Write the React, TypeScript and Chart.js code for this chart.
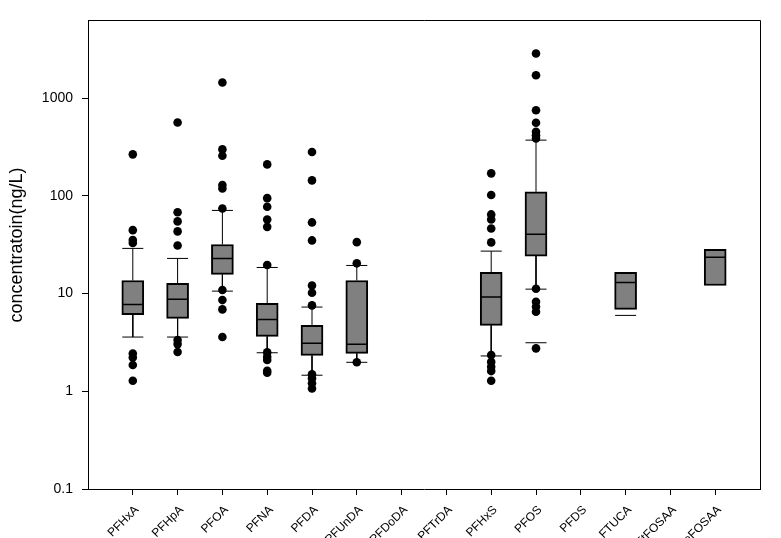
import React, { useEffect, useRef } from 'react';
import { Chart, registerables } from 'chart.js';

Chart.register(...registerables);

const categories = [
  'PFHxA', 'PFHpA', 'PFOA', 'PFNA', 'PFDA', 'PFUnDA', 'PFDoDA', 'PFTrDA',
  'PFHxS', 'PFOS', 'PFDS', 'FTUCA', 'N-EtFOSAA', 'N-MeFOSAA',
];
const yTickValues = [0.1, 1, 10, 100, 1000];

const boxLow = [6.1, 5.57, 15.7, 3.65, 2.33, 2.44, null, null, 4.73, 24.2, null, 6.89, null, 12.1];
const medians = [7.75, 8.73, 22.9, 5.44, 3.1, 3.03, null, null, 9.2, 40.4, null, 13.0, null, 23.5];
const boxHigh = [13.6, 12.7, 31.8, 7.94, 4.73, 13.6, null, null, 16.5, 110, null, 16.5, null, 28.3];
const whiskerLow = [3.59, 3.59, 10.6, 2.48, 1.46, 1.98, null, null, 2.3, 11.1, null, null, null, null];
const whiskerHigh = [29, 22.9, 71, 18.5, 7.28, 19.4, null, null, 27.2, 372, null, null, null, null];
const extraLowCaps = [null, null, null, null, null, null, null, null, null, 3.14, null, 5.98, null, null];

const outliers: number[][] = [
  [266, 44.6, 35.3, 33, 2.44, 2.22, 1.86, 1.28],
  [564, 68, 54.8, 43.3, 31.1, 3.34, 3.04, 2.52],
  [1449, 299, 257, 129, 119, 74.4, 10.9, 8.58, 6.89, 3.59],
  [210, 94.8, 77.3, 57.4, 48.2, 19.6, 2.5, 2.26, 2.09, 1.62, 1.55],
  [281, 144, 53.5, 35, 12.1, 10.2, 7.57, 1.49, 1.36, 1.21, 1.07],
  [33.6, 20.4, 1.98],
  [],
  [],
  [170, 102, 64.6, 57.4, 46.4, 33.4, 2.35, 2.0, 1.78, 1.61, 1.28],
  [2865, 1718, 753, 560, 452, 418, 387, 11.2, 8.24, 7.33, 6.52, 2.75],
  [],
  [],
  [],
  [],
];

const yTitle = 'concentratoin(ng/L)';
const FONT = "'Liberation Sans', Arial, sans-serif";

export default function App() {
  const ref = useRef<HTMLCanvasElement>(null);

  useEffect(() => {
    if (!ref.current) return;
    const xs = categories.map((_, i) => i + 1);
    const capHalf = 0.235;
    const medHalf = 0.235;

    const boxData: any[] = [];
    const medianPts: any[] = [];
    const whiskerPts: any[] = [];
    const outlierPts: any[] = [];

    xs.forEach((x, i) => {
      const seg = (a: any, b: any, arr: any[]) => arr.push(a, b, { x, y: null });
      if (boxLow[i] != null && boxHigh[i] != null) {
        boxData.push({ x, y: [boxLow[i], boxHigh[i]] });
      }
      if (medians[i] != null) {
        seg({ x: x - medHalf, y: medians[i] }, { x: x + medHalf, y: medians[i] }, medianPts);
      }
      if (whiskerLow[i] != null) {
        seg({ x, y: boxLow[i] }, { x, y: whiskerLow[i] }, whiskerPts);
        seg({ x: x - capHalf, y: whiskerLow[i] }, { x: x + capHalf, y: whiskerLow[i] }, whiskerPts);
      }
      if (whiskerHigh[i] != null) {
        seg({ x, y: boxHigh[i] }, { x, y: whiskerHigh[i] }, whiskerPts);
        seg({ x: x - capHalf, y: whiskerHigh[i] }, { x: x + capHalf, y: whiskerHigh[i] }, whiskerPts);
      }
      if (extraLowCaps[i] != null) {
        seg({ x: x - capHalf, y: extraLowCaps[i] }, { x: x + capHalf, y: extraLowCaps[i] }, whiskerPts);
      }
      outliers[i].forEach((v) => outlierPts.push({ x, y: v }));
    });

    const framePlugin = {
      id: 'frame',
      afterDraw(chart: any) {
        const { ctx, chartArea } = chart;
        const { left, right, top, bottom } = chartArea;
        ctx.save();
        ctx.strokeStyle = '#000';
        ctx.lineWidth = 1;
        ctx.beginPath();
        const t = Math.floor(top) + 0.5;
        const r = Math.floor(right) + 0.5;
        ctx.moveTo(Math.floor(left), t);
        ctx.lineTo(r, t);
        ctx.lineTo(r, Math.ceil(bottom));
        ctx.stroke();
        // y-axis title
        ctx.fillStyle = '#000';
        ctx.font = `18px ${FONT}`;
        ctx.textAlign = 'center';
        ctx.textBaseline = 'middle';
        ctx.translate(17.5, 245);
        ctx.rotate(-Math.PI / 2);
        ctx.fillText(yTitle, 0, 0);
        ctx.restore();
      },
    };

    const chart = new Chart(ref.current, {
      type: 'bar',
      data: {
        datasets: [
          {
            type: 'scatter',
            data: outlierPts,
            pointRadius: 4.3,
            pointBackgroundColor: '#000',
            pointBorderWidth: 0,
            pointBorderColor: '#000',
            order: 0,
          } as any,
          {
            type: 'line',
            data: medianPts,
            borderColor: '#000',
            borderWidth: 1.5,
            pointRadius: 0,
            spanGaps: false,
            fill: false,
            order: 1,
          } as any,
          {
            type: 'bar',
            data: boxData,
            backgroundColor: '#808080',
            borderColor: '#000',
            borderWidth: 2,
            borderSkipped: false,
            barThickness: 22,
            order: 2,
          } as any,
          {
            type: 'line',
            data: whiskerPts,
            borderColor: '#000',
            borderWidth: 1,
            pointRadius: 0,
            spanGaps: false,
            fill: false,
            order: 3,
          } as any,
        ],
      },
      options: {
        responsive: false,
        devicePixelRatio: 1,
        animation: false,
        parsing: true,
        layout: { padding: { top: 20, right: 21, left: 0, bottom: 0 } },
        plugins: { legend: { display: false }, tooltip: { enabled: false } },
        scales: {
          x: {
            type: 'linear',
            min: 0,
            max: 15,
            offset: false,
            afterBuildTicks: (s: any) => {
              s.ticks = xs.map((v) => ({ value: v }));
            },
            afterFit: (s: any) => {
              s.height = 49;
            },
            ticks: {
              callback: (v: any) => categories[Number(v) - 1] ?? '',
              minRotation: 45,
              maxRotation: 45,
              autoSkip: false,
              color: '#000',
              padding: 8,
              labelOffset: 4,
              font: { family: FONT, size: 12 },
            },
            grid: {
              offset: false,
              drawOnChartArea: false,
              drawTicks: true,
              tickLength: 6,
              color: '#000',
            },
            border: { display: true, color: '#000', width: 1 },
          },
          y: {
            type: 'logarithmic',
            min: 0.1,
            max: 6310,
            afterBuildTicks: (s: any) => {
              s.ticks = yTickValues.map((v) => ({ value: v }));
            },
            afterFit: (s: any) => {
              s.width = 88;
            },
            ticks: {
              callback: (v: any) => String(v),
              autoSkip: false,
              color: '#000',
              padding: 9,
              font: { family: FONT, size: 14 },
            },
            grid: {
              drawOnChartArea: false,
              drawTicks: true,
              tickLength: 6,
              color: '#000',
            },
            border: { display: true, color: '#000', width: 1 },
          },
        },
      } as any,
      plugins: [framePlugin],
    });
    return () => chart.destroy();
  }, []);

  return (
    <div style={{ position: 'absolute', left: 0, top: 0, width: 781, height: 538, background: '#fff' }}>
      <canvas ref={ref} width={781} height={538} style={{ display: 'block' }} />
    </div>
  );
}
